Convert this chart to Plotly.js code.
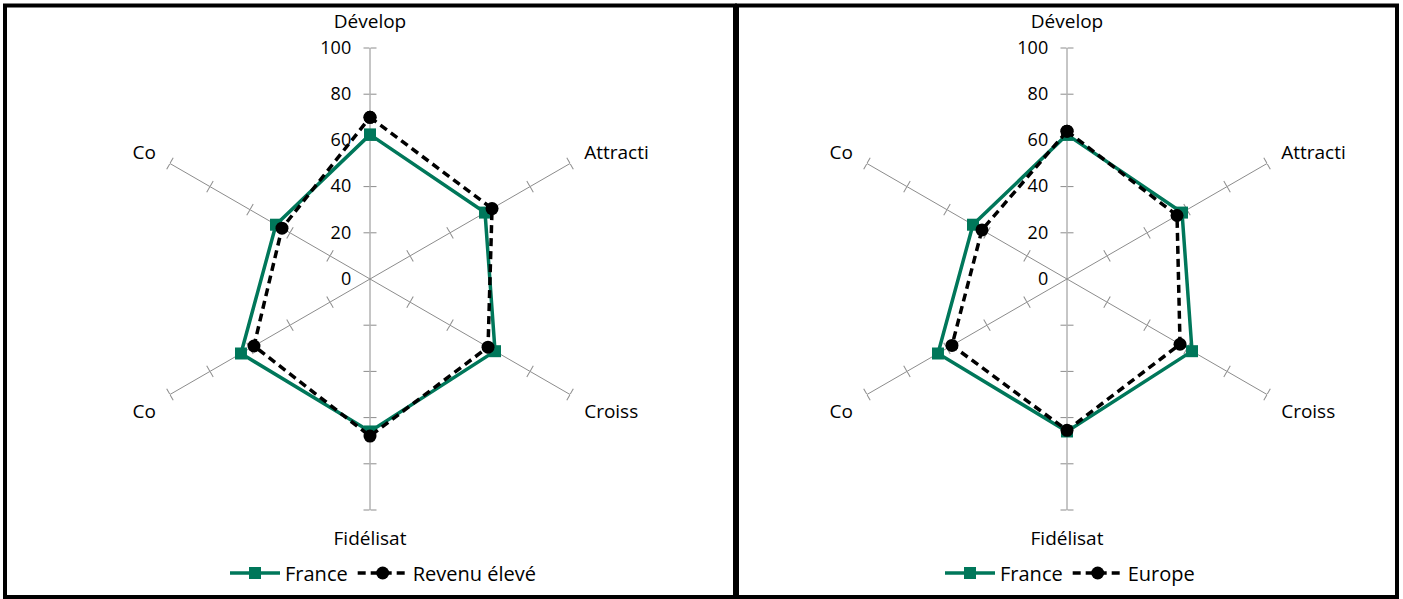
<!DOCTYPE html>
<html>
<head>
<meta charset="utf-8">
<script src="https://cdn.plot.ly/plotly-3.0.1.min.js"></script>
<style>
html,body{margin:0;padding:0;background:#fff;}
#chart{width:1403px;height:599px;}
</style>
</head>
<body>
<div id="chart"></div>
<script>
// ---- data ----
const categories = ['Dévelop', 'Attracti', 'Croiss', 'Fidélisat', 'Co', 'Co'];
const france = [62.5, 57.5, 62.5, 66, 64.5, 47];
const revenuEleve = [70, 61, 59, 68, 58, 44];
const europe = [64, 55, 56.5, 65.5, 57.5, 42.5];
const radialTickVals = [0, 20, 40, 60, 80, 100];
const leftNames = ['France', 'Revenu élevé'];
const rightNames = ['France', 'Europe'];

// ---- style ----
const FONT = 'Open Sans, sans-serif';
const GREEN = '#00775A';
const GRID = '#8c8c8c';
const W = 1403, H = 599;
const angles = categories.map((c, i) => i * 60);

function closeLoop(a) { return a.concat([a[0]]); }

const layout = {
  width: W, height: H,
  margin: {l: 0, r: 0, t: 0, b: 0},
  paper_bgcolor: '#fff',
  font: {family: FONT, color: '#000', size: 18},
  showlegend: true,
  shapes: [],
  legend: {
    orientation: 'h', x: 383 / W, xanchor: 'center', y: (H - 573) / H, yanchor: 'middle',
    font: {family: FONT, size: 20, color: '#000'}, itemwidth: 50, bgcolor: 'rgba(0,0,0,0)', traceorder: 'normal'
  },
  legend2: {
    orientation: 'h', x: 1070 / W, xanchor: 'center', y: (H - 573) / H, yanchor: 'middle',
    font: {family: FONT, size: 20, color: '#000'}, itemwidth: 50, bgcolor: 'rgba(0,0,0,0)', traceorder: 'normal'
  }
};

const R = 231;
const centers = [{x: 370, y: 279}, {x: 1067, y: 279}];
const traces = [];
let polarIdx = 0;
function nextPolar() { polarIdx += 1; return polarIdx === 1 ? 'polar' : 'polar' + polarIdx; }

centers.forEach((c, ci) => {
  const domain = {
    x: [(c.x - R) / W, (c.x + R) / W],
    y: [(H - (c.y + R)) / H, (H - (c.y - R)) / H]
  };
  // spoke tick marks (cross ticks, both sides)
  angles.forEach(th => {
    ['outside', 'inside'].forEach(side => {
      const name = nextPolar();
      layout[name] = {
        domain: domain,
        bgcolor: 'rgba(0,0,0,0)',
        angularaxis: {visible: false, rotation: 90, direction: 'clockwise'},
        radialaxis: {
          range: [0, 100], angle: 90 - th, tickvals: [20, 40, 60, 80, 100],
          ticks: side, ticklen: 6, tickcolor: GRID, tickwidth: 1,
          showticklabels: false, showline: false, showgrid: false
        }
      };
      traces.push({type: 'scatterpolar', subplot: name, r: [0], theta: [0], mode: 'markers',
        marker: {opacity: 0}, showlegend: false, hoverinfo: 'skip'});
    });
  });
  // main polar
  const main = nextPolar();
  layout[main] = {
    domain: domain,
    bgcolor: 'rgba(0,0,0,0)',
    angularaxis: {
      type: 'linear', thetaunit: 'degrees', rotation: 90, direction: 'clockwise',
      tickvals: angles, ticktext: categories,
      showgrid: true, gridcolor: GRID, gridwidth: 1,
      showline: false, ticks: 'outside', ticklen: 12, tickcolor: 'rgba(0,0,0,0)',
      tickfont: {family: FONT, size: 19, color: '#000'}
    },
    radialaxis: {
      range: [0, 100], angle: 90, side: 'counterclockwise', tickangle: 90,
      tickvals: radialTickVals, ticks: 'outside', ticklen: 12, tickcolor: 'rgba(0,0,0,0)',
      showline: false, showgrid: false,
      tickfont: {family: FONT, size: 18, color: '#000'}
    }
  };
  const other = ci === 0 ? revenuEleve : europe;
  const names = ci === 0 ? leftNames : rightNames;
  const leg = ci === 0 ? 'legend' : 'legend2';
  traces.push({
    type: 'scatterpolar', subplot: main, legend: leg, name: names[0],
    r: closeLoop(france), theta: closeLoop(angles), mode: 'lines+markers',
    line: {color: GREEN, width: 3.5},
    marker: {symbol: 'square', size: 12, color: GREEN},
    hoverinfo: 'skip'
  });
  traces.push({
    type: 'scatterpolar', subplot: main, legend: leg, name: names[1],
    r: closeLoop(other), theta: closeLoop(angles), mode: 'lines+markers',
    line: {color: '#000', width: 3.5, dash: '8px,5px'},
    marker: {symbol: 'circle', size: 13, color: '#000'},
    hoverinfo: 'skip'
  });
});

// panel borders
function px(x) { return x / W; }
function py(y) { return (H - y) / H; }
layout.shapes.push({type: 'rect', xref: 'paper', yref: 'paper', x0: px(5), x1: px(735), y0: py(597), y1: py(5.5), line: {color: '#000', width: 4}});
layout.shapes.push({type: 'rect', xref: 'paper', yref: 'paper', x0: px(737), x1: px(1397), y0: py(597), y1: py(5.5), line: {color: '#000', width: 4}});

Plotly.newPlot('chart', traces, layout, {staticPlot: true, displayModeBar: false});
</script>
</body>
</html>
